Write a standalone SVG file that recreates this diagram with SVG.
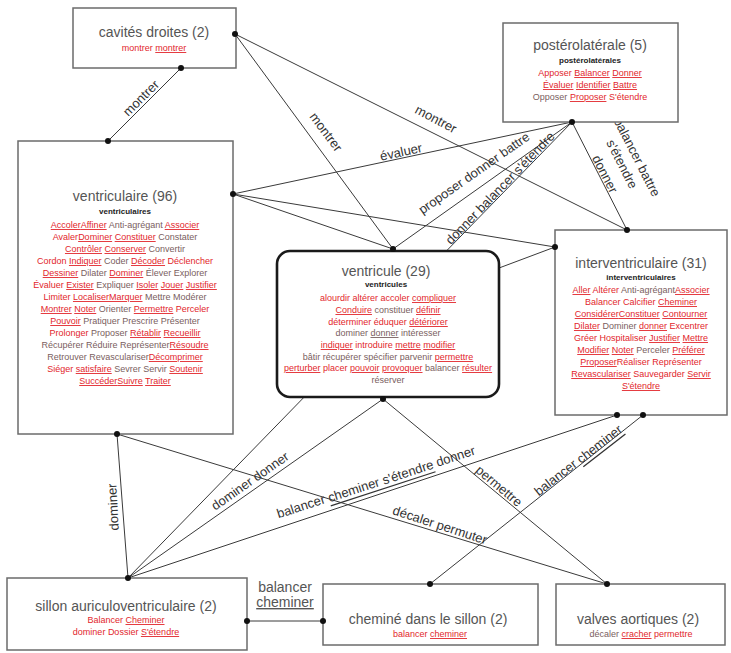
<svg xmlns="http://www.w3.org/2000/svg" width="731" height="653" viewBox="0 0 731 653">
<style>
.box{fill:#fff;stroke:#6b6b6b;stroke-width:1.5}
.main{fill:#fff;stroke:#1a1a1a;stroke-width:2.6}
.ln{stroke:#3a3a3a;stroke-width:1;fill:none}
.dot{fill:#111}
.title{font-family:"Liberation Sans",Arial,sans-serif;font-size:14px;fill:#555;text-anchor:middle}
.sub{font-family:"Liberation Sans",Arial,sans-serif;font-size:8px;font-weight:bold;fill:#222;text-anchor:middle}
.red{font-family:"Liberation Sans",Arial,sans-serif;font-size:9px;fill:#e2262c;text-anchor:middle}
.g{fill:#7a6060}
.u{text-decoration:underline}
.lbl{font-family:"Liberation Sans",Arial,sans-serif;font-size:13px;fill:#333;text-anchor:middle;dominant-baseline:central}
.hl{font-family:"Liberation Sans",Arial,sans-serif;font-size:14px;fill:#555;text-anchor:middle}
</style>
<rect width="731" height="653" fill="#fff"/>
<g id="connectors">
<line class="ln" x1="181" y1="68" x2="108" y2="141"/>
<line class="ln" x1="235" y1="34" x2="393" y2="249"/>
<line class="ln" x1="235" y1="34" x2="627" y2="230"/>
<line class="ln" x1="572" y1="122" x2="233" y2="194"/>
<line class="ln" x1="572" y1="122" x2="393" y2="249"/>
<line class="ln" x1="572" y1="122" x2="128" y2="578"/>
<line class="ln" x1="572" y1="122" x2="627" y2="230"/>
<line class="ln" x1="233" y1="194" x2="393" y2="249"/>
<line class="ln" x1="233" y1="194" x2="555" y2="247"/>
<line class="ln" x1="555" y1="247" x2="499" y2="268"/>
<line class="ln" x1="117" y1="434" x2="128" y2="578"/>
<line class="ln" x1="117" y1="434" x2="607" y2="584"/>
<line class="ln" x1="383" y1="399" x2="128" y2="578"/>
<line class="ln" x1="383" y1="399" x2="607" y2="584"/>
<line class="ln" x1="128" y1="578" x2="617" y2="415"/>
<line class="ln" x1="430" y1="584" x2="643" y2="415"/>
<line class="ln" x1="247" y1="621" x2="323" y2="621"/>
<text class="lbl" transform="translate(141,98) rotate(-45)">montrer</text>
<text class="lbl" transform="translate(326,132) rotate(53)">montrer</text>
<text class="lbl" transform="translate(436,119) rotate(28)">montrer</text>
<text class="lbl" transform="translate(401,152) rotate(-12)">évaluer</text>
<text class="lbl" transform="translate(474,173) rotate(-35)">proposer donner battre</text>
<text class="lbl" transform="translate(500,188) rotate(-46)">donner balancer s'étendre</text>
<text class="lbl" transform="translate(637,157) rotate(63)">balancer battre</text>
<text class="lbl" transform="translate(622,164) rotate(63)">s'étendre</text>
<text class="lbl" transform="translate(605,174) rotate(63)">donner</text>
<text class="lbl" transform="translate(113,507) rotate(-93)">dominer</text>
<text class="lbl" transform="translate(250,481) rotate(-35)">dominer donner</text>
<text class="lbl" transform="translate(376,482) rotate(-18)">balancer <tspan class="u">cheminer s'étendre</tspan> donner</text>
<text class="lbl" transform="translate(440,525) rotate(18)">décaler permuter</text>
<text class="lbl" transform="translate(499,486) rotate(40)">permettre</text>
<text class="lbl" transform="translate(578,460) rotate(-38)">balancer <tspan class="u">cheminer</tspan></text>
<text class="hl" x="285" y="592">balancer</text>
<text class="hl u" x="285" y="607">cheminer</text>
</g>
<g id="n-cavites">
<rect class="box" x="73" y="8" width="163" height="60"/>
<text class="title" x="154" y="37">cavités droites (2)</text>
<text class="red" x="154" y="51">montrer <tspan class="u">montrer</tspan></text>
</g>
<g id="n-posterolaterale">
<rect class="box" x="503" y="23" width="175" height="99"/>
<text class="title" x="590" y="50">postérolatérale (5)</text>
<text class="sub" x="590" y="63">postérolatérales</text>
<text class="red" x="590" y="76">Apposer <tspan class="u">Balancer</tspan> <tspan class="u">Donner</tspan></text>
<text class="red" x="590" y="88"><tspan class="u">Évaluer</tspan> <tspan class="u">Identifier</tspan> <tspan class="u">Battre</tspan></text>
<text class="red" x="590" y="100"><tspan class="g">Opposer</tspan> <tspan class="u">Proposer</tspan> S'étendre</text>
</g>
<g id="n-ventriculaire">
<rect class="box" x="18" y="141" width="215" height="293"/>
<text class="title" x="125" y="201">ventriculaire (96)</text>
<text class="sub" x="125" y="214">ventriculaires</text>
<text class="red" x="125" y="228"><tspan class="u">Accoler</tspan><tspan class="u">Affiner</tspan> <tspan class="g">Anti-agrégant</tspan> <tspan class="u">Associer</tspan></text>
<text class="red" x="125" y="240">Avaler<tspan class="u">Dominer</tspan> <tspan class="u">Constituer</tspan> <tspan class="g">Constater</tspan></text>
<text class="red" x="125" y="252"><tspan class="u">Contrôler</tspan> <tspan class="u">Conserver</tspan> <tspan class="g">Convertir</tspan></text>
<text class="red" x="125" y="264">Cordon <tspan class="u">Indiquer</tspan> <tspan class="g">Coder</tspan> <tspan class="u">Décoder</tspan> Déclencher</text>
<text class="red" x="125" y="276"><tspan class="u">Dessiner</tspan> <tspan class="g">Dilater</tspan> <tspan class="u">Dominer</tspan> <tspan class="g">Élever Explorer</tspan></text>
<text class="red" x="125" y="288">Évaluer <tspan class="u">Exister</tspan> <tspan class="g">Expliquer</tspan> <tspan class="u">Isoler</tspan> <tspan class="u">Jouer</tspan> <tspan class="u">Justifier</tspan></text>
<text class="red" x="125" y="300">Limiter <tspan class="u">Localiser</tspan><tspan class="u">Marquer</tspan> <tspan class="g">Mettre Modérer</tspan></text>
<text class="red" x="125" y="312"><tspan class="u">Montrer</tspan> <tspan class="u">Noter</tspan> <tspan class="g">Orienter</tspan> <tspan class="u">Permettre</tspan> Perceler</text>
<text class="red" x="125" y="324"><tspan class="u">Pouvoir</tspan> <tspan class="g">Pratiquer Prescrire Présenter</tspan></text>
<text class="red" x="125" y="336">Prolonger <tspan class="g">Proposer</tspan> <tspan class="u">Rétablir</tspan> <tspan class="u">Recueillir</tspan></text>
<text class="red" x="125" y="348"><tspan class="g">Récupérer Réduire Représenter</tspan><tspan class="u">Résoudre</tspan></text>
<text class="red" x="125" y="360"><tspan class="g">Retrouver Revasculariser</tspan><tspan class="u">Décomprimer</tspan></text>
<text class="red" x="125" y="372">Siéger <tspan class="u">satisfaire</tspan> <tspan class="g">Sevrer Servir</tspan> <tspan class="u">Soutenir</tspan></text>
<text class="red" x="125" y="384"><tspan class="u">Succéder</tspan><tspan class="u">Suivre</tspan> <tspan class="u">Traiter</tspan></text>
</g>
<g id="n-ventricule">
<rect class="main" x="277" y="251" width="222" height="146" rx="13"/>
<text class="title" x="386" y="276">ventricule (29)</text>
<text class="sub" x="386" y="287">ventricules</text>
<text class="red" x="388" y="301">alourdir altérer accoler <tspan class="u">compliquer</tspan></text>
<text class="red" x="388" y="313"><tspan class="u">Conduire</tspan> <tspan class="g">constituer</tspan> <tspan class="u">définir</tspan></text>
<text class="red" x="388" y="325">déterminer éduquer <tspan class="u">détériorer</tspan></text>
<text class="red" x="388" y="336"><tspan class="g">dominer</tspan> <tspan class="u g">donner</tspan> <tspan class="g">intéresser</tspan></text>
<text class="red" x="388" y="348"><tspan class="u">indiquer</tspan> introduire <tspan class="u">mettre</tspan> <tspan class="u">modifier</tspan></text>
<text class="red" x="388" y="360"><tspan class="g">bâtir récupérer spécifier parvenir</tspan> <tspan class="u">permettre</tspan></text>
<text class="red" x="388" y="371"><tspan class="u">perturber</tspan> placer <tspan class="u">pouvoir</tspan> <tspan class="u">provoquer</tspan> <tspan class="g">balancer</tspan> <tspan class="u">résulter</tspan></text>
<text class="red" x="388" y="383"><tspan class="g">réserver</tspan></text>
</g>
<g id="n-interventriculaire">
<rect class="box" x="555" y="230" width="172" height="185"/>
<text class="title" x="641" y="268">interventriculaire (31)</text>
<text class="sub" x="641" y="280">interventriculaires</text>
<text class="red" x="641" y="293"><tspan class="u">Aller</tspan> Altérer <tspan class="g">Anti-agrégant</tspan><tspan class="u">Associer</tspan></text>
<text class="red" x="641" y="305">Balancer Calcifier <tspan class="u">Cheminer</tspan></text>
<text class="red" x="641" y="317"><tspan class="u">Considérer</tspan><tspan class="u">Constituer</tspan> <tspan class="u">Contourner</tspan></text>
<text class="red" x="641" y="329"><tspan class="u">Dilater</tspan> <tspan class="g">Dominer</tspan> <tspan class="u">donner</tspan> Excentrer</text>
<text class="red" x="641" y="341">Gréer Hospitaliser <tspan class="u">Justifier</tspan> <tspan class="u">Mettre</tspan></text>
<text class="red" x="641" y="353"><tspan class="u">Modifier</tspan> <tspan class="u">Noter</tspan> <tspan class="g">Perceler</tspan> <tspan class="u">Préférer</tspan></text>
<text class="red" x="641" y="365"><tspan class="u">Proposer</tspan>Réaliser Représenter</text>
<text class="red" x="641" y="377"><tspan class="u">Revasculariser</tspan> Sauvegarder <tspan class="u">Servir</tspan></text>
<text class="red" x="641" y="389"><tspan class="u">S'étendre</tspan></text>
</g>
<g id="n-sillon">
<rect class="box" x="7" y="578" width="240" height="72"/>
<text class="title" x="126" y="611">sillon auriculoventriculaire (2)</text>
<text class="red" x="126" y="623">Balancer <tspan class="u">Cheminer</tspan></text>
<text class="red" x="126" y="635">dominer Dossier <tspan class="u">S'étendre</tspan></text>
</g>
<g id="n-chemine">
<rect class="box" x="323" y="584" width="215" height="61"/>
<text class="title" x="428" y="624">cheminé dans le sillon (2)</text>
<text class="red" x="430" y="637">balancer <tspan class="u">cheminer</tspan></text>
</g>
<g id="n-valves">
<rect class="box" x="556" y="584" width="169" height="61"/>
<text class="title" x="638" y="624">valves aortiques (2)</text>
<text class="red" x="641" y="637"><tspan class="g">décaler</tspan> <tspan class="u">cracher</tspan> permettre</text>
</g>
<g id="ports">
<circle class="dot" cx="235" cy="34" r="3"/>
<circle class="dot" cx="181" cy="68" r="3"/>
<circle class="dot" cx="108" cy="141" r="3"/>
<circle class="dot" cx="233" cy="194" r="3"/>
<circle class="dot" cx="117" cy="434" r="3"/>
<circle class="dot" cx="393" cy="249" r="3"/>
<circle class="dot" cx="383" cy="399" r="3"/>
<circle class="dot" cx="572" cy="122" r="3"/>
<circle class="dot" cx="627" cy="230" r="3"/>
<circle class="dot" cx="555" cy="247" r="3"/>
<circle class="dot" cx="617" cy="415" r="3"/>
<circle class="dot" cx="643" cy="415" r="3"/>
<circle class="dot" cx="128" cy="578" r="3"/>
<circle class="dot" cx="247" cy="621" r="3"/>
<circle class="dot" cx="430" cy="584" r="3"/>
<circle class="dot" cx="323" cy="621" r="3"/>
<circle class="dot" cx="607" cy="584" r="3"/>
</g>
</svg>
